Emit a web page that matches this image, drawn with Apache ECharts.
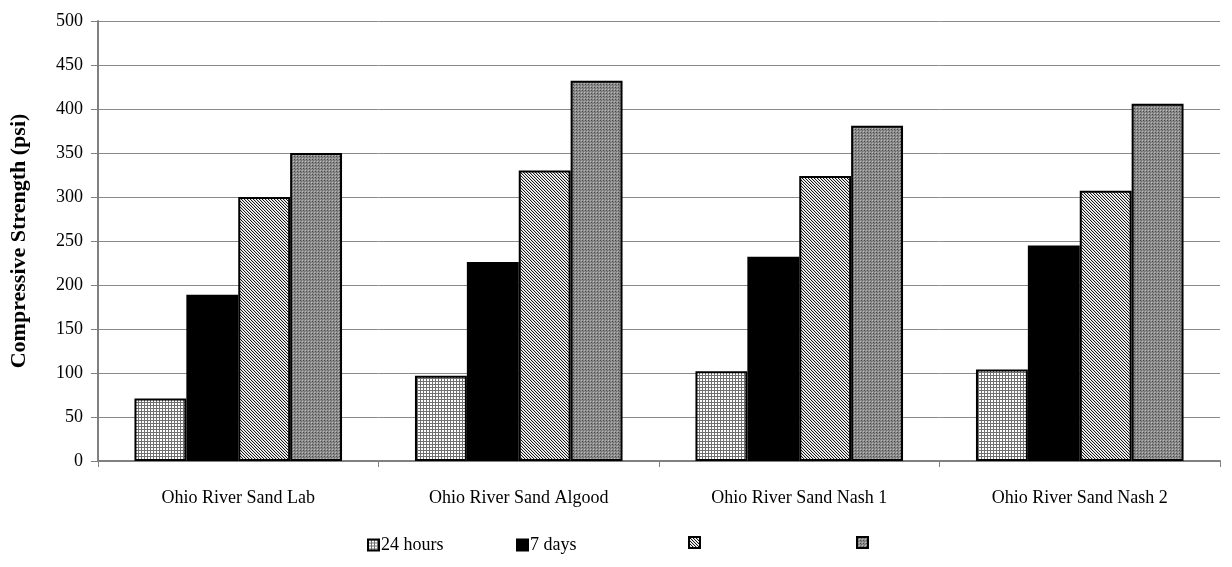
<!DOCTYPE html>
<html>
<head>
<meta charset="utf-8">
<script src="https://cdn.jsdelivr.net/npm/echarts@6/dist/echarts.min.js"></script>
<style>
  html, body { margin: 0; padding: 0; background: #fff; }
  #chart { width: 1232px; height: 567px; }
</style>
</head>
<body>
<div id="chart"></div>
<script>
// Sand sources along the x axis
const categories = ['Ohio River Sand Lab', 'Ohio River Sand Algood', 'Ohio River Sand Nash 1', 'Ohio River Sand Nash 2'];

// Compressive strength (psi) at each curing age
const hours24 = [71, 97, 102, 104];
const days7 = [189, 226, 232, 245];
const ageThree = [300, 330, 324, 307];
const ageFour = [350, 432, 381, 406];

// Legend captions (the last two entries carry no caption)
const legendLabels = ['24 hours', '7 days', '', ''];
const seriesIds = ['s24h', 's7d', 's3', 's4'];

const yTicks = { min: 0, max: 500, interval: 50 };

// Small tiled fill patterns for the bars
function makeTile(size, draw) {
  const c = document.createElement('canvas');
  c.width = size; c.height = size;
  const ctx = c.getContext('2d');
  draw(ctx, size);
  return { image: c, repeat: 'repeat' };
}
function px(ctx, x, y, col) { ctx.fillStyle = col; ctx.fillRect(x, y, 1, 1); }

// fine grid: grey lines on white
const gridFill = makeTile(3, (ctx, s) => {
  ctx.fillStyle = '#ffffff'; ctx.fillRect(0, 0, s, s);
  ctx.fillStyle = '#707070';
  ctx.fillRect(0, 0, s, 1);
  ctx.fillRect(0, 0, 1, s);
});
// fine diagonal hatch
const diagFill = makeTile(3, (ctx, s) => {
  ctx.fillStyle = '#ffffff'; ctx.fillRect(0, 0, s, s);
  for (let i = 0; i < s; i++) {
    px(ctx, i, i, '#1a1a1a');
    px(ctx, (i + 1) % s, i, '#d0d0d0');
  }
});
// grey stipple
const dotFill = makeTile(3, (ctx, s) => {
  ctx.fillStyle = '#8c8c8c'; ctx.fillRect(0, 0, s, s);
  px(ctx, 0, 0, '#4a4a4a');
  px(ctx, 2, 2, '#b8b8b8');
  px(ctx, 1, 1, '#6e6e6e');
});

const fills = [gridFill, '#000000', diagFill, dotFill];
const values = [hours24, days7, ageThree, ageFour];

const serif = 'Liberation Serif';

const series = values.map((v, i) => ({
  name: seriesIds[i],
  type: 'bar',
  data: v,
  barGap: '0%',
  barCategoryGap: '26%',
  itemStyle: { color: fills[i], borderColor: '#000000', borderWidth: 2 },
  emphasis: { disabled: true }
}));

// one legend per entry so each sits at its own position along the bottom row
const legendLefts = [362, 511, 683, 851];
const legends = seriesIds.map((id, i) => ({
  data: [id],
  left: legendLefts[i],
  top: 531,
  icon: 'rect',
  itemWidth: 11,
  itemHeight: 11,
  itemGap: 0,
  selectedMode: false,
  formatter: () => legendLabels[i],
  textStyle: { fontFamily: serif, fontSize: 18, color: '#000', padding: [0, 0, 0, -3] }
}));

const chart = echarts.init(document.getElementById('chart'), null, { renderer: 'canvas' });
chart.setOption({
  animation: false,
  backgroundColor: '#ffffff',
  legend: legends,
  grid: { left: 98, right: 12, top: 21, bottom: 106, containLabel: false, outerBoundsMode: 'none' },
  xAxis: {
    type: 'category',
    data: categories,
    axisLine: { show: true, lineStyle: { color: '#808080', width: 2 } },
    axisTick: { show: true, length: 6, lineStyle: { color: '#808080', width: 1 } },
    axisLabel: { fontFamily: serif, fontSize: 18, color: '#000', margin: 28 },
    splitLine: { show: false }
  },
  yAxis: {
    type: 'value',
    min: yTicks.min,
    max: yTicks.max,
    interval: yTicks.interval,
    name: 'Compressive Strength (psi)',
    nameLocation: 'middle',
    nameGap: 68,
    nameTextStyle: { fontFamily: serif, fontSize: 22, fontWeight: 'bold', color: '#000' },
    axisLine: { show: true, lineStyle: { color: '#808080', width: 2 } },
    axisTick: { show: true, length: 7, lineStyle: { color: '#808080', width: 1 } },
    axisLabel: { fontFamily: serif, fontSize: 18, color: '#000', margin: 15 },
    splitLine: { show: true, lineStyle: { color: '#8a8a8a', width: 1 } }
  },
  series: series
});
</script>
</body>
</html>
